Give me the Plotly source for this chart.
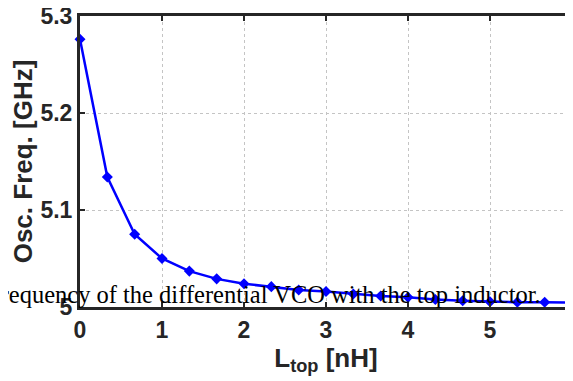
import plotly.graph_objects as go

# Data
l_top = [0, 1/3, 2/3, 1, 4/3, 5/3, 2, 7/3, 8/3, 3, 10/3, 11/3, 4, 13/3, 14/3, 5, 16/3, 17/3, 6]
freq = [5.276, 5.134, 5.075, 5.050, 5.037, 5.029, 5.024, 5.021, 5.0175, 5.016,
        5.0135, 5.0113, 5.010, 5.0078, 5.0065, 5.0055, 5.005, 5.0048, 5.0045]
x_ticks = [0, 1, 2, 3, 4, 5, 6]
y_ticks = [5.0, 5.1, 5.2, 5.3]
y_tick_labels = ["5", "5.1", "5.2", "5.3"]
caption = "Frequency of the differential VCO with the top inductor."

# page body has an 8px margin; compensate so the plot sits where the reference's does
OFF = 8
W, H = 573 - OFF, 381 - OFF
ml, mr, mt, mb = 80 - OFF, 1, 16 - OFF, 74
pw, ph = W - ml - mr, H - mt - mb

fig = go.Figure()
fig.add_trace(go.Scatter(
    x=l_top, y=freq, mode="lines+markers",
    line=dict(color="#0000ff", width=2.5),
    marker=dict(symbol="diamond", size=8.5, color="#0000ff"),
    showlegend=False, cliponaxis=False,
))

sans = "Liberation Sans, Arial, sans-serif"
axis_font = dict(family=sans, size=23, color="#262626")
common = dict(
    showline=True, linecolor="#262626", linewidth=3, mirror="ticks",
    ticks="inside", ticklen=5, tickwidth=2, tickcolor="#262626",
    showgrid=True, gridcolor="#c4c4c4", griddash="dot", gridwidth=1,
    zeroline=False, tickfont=axis_font, automargin=False,
    ticklabeloverflow="allow",
)
fig.update_xaxes(
    range=[0, 6], tickvals=x_ticks, ticktext=["<b>%s</b>" % v for v in x_ticks],
    title=dict(text="<b>L<sub>top</sub> [nH]</b>",
               font=dict(family=sans, size=26, color="#262626"), standoff=2),
    **common,
)
fig.update_yaxes(
    range=[5.0, 5.3], tickvals=y_ticks, ticktext=["<b>%s</b>" % v for v in y_tick_labels],
    title=dict(text="<b>Osc. Freq. [GHz]</b>",
               font=dict(family=sans, size=26, color="#262626"), standoff=4),
    **common,
)

cap_right_px = 543 - 80      # relative to plot area's left edge
cap_mid_px = 307 - 294       # above plot area's bottom edge
fig.add_annotation(
    text=caption, xref="paper", yref="paper",
    x=cap_right_px / pw, y=cap_mid_px / ph,
    xanchor="right", yanchor="middle", showarrow=False,
    font=dict(family="Liberation Serif, Times New Roman, serif", size=24.5, color="#000000"),
)

fig.update_layout(
    width=W, height=H,
    margin=dict(l=ml, r=mr, t=mt, b=mb, pad=0),
    paper_bgcolor="white", plot_bgcolor="white",
    font=dict(family=sans, color="#262626"),
)

fig.write_html("out.html")
